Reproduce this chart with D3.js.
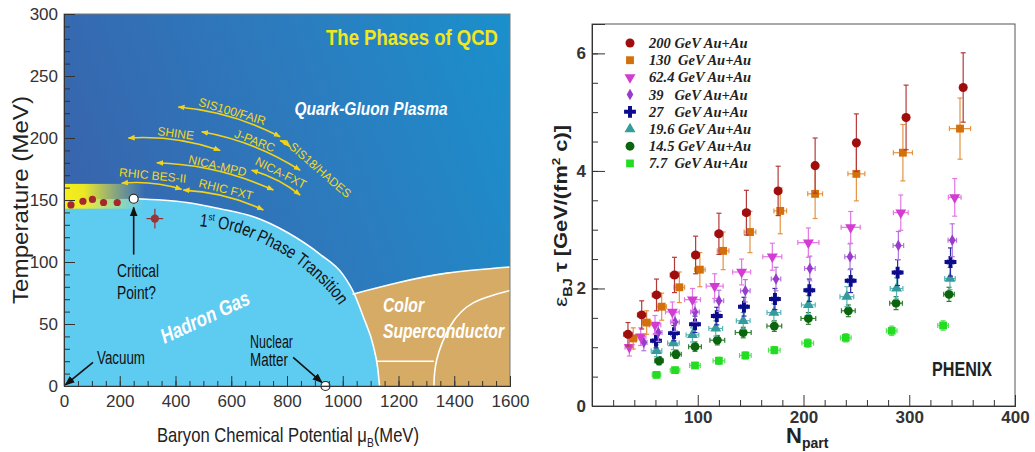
<!DOCTYPE html>
<html>
<head>
<meta charset="utf-8">
<script src="https://cdn.jsdelivr.net/npm/d3@7"></script>
<style>
  body { margin: 0; background: #fff; }
  svg { display: block; }
</style>
</head>
<body>
<div id="chart"></div>
<script>
// ---------------- QCD phase diagram (left panel) ----------------
// [muB (MeV), T (MeV)]
const phaseBoundary = [[0,150],[250,151],[440,148],[560,143],[680,136.5],[800,124],[920,106],[1000,90],[1040,75],[1075,55],[1110,32],[1125,15],[1132,0]];
const cscTop = [[1035,74],[1193,83],[1373,91],[1600,96]];
const cscInnerLine = [[1122,20],[1327,20]];
const cscInnerArc = [[1327,0],[1337,21],[1385,48],[1468,67],[1600,77]];
const freezeOut = [[25,146],[68,149],[102,150.5],[142,148],[191,148]];
const criticalPoint = [250,151];
const latticePoint = [326,135];
const latticeErr = [30,8];
const nuclearMatter = [938,0];
const transitionLabelPath = [[485,129],[600,125],[673,119],[740,112],[817,102],[900,87],[965,72],[1010,57]];

const expNames = ["SIS100/FAIR","J-PARC","SIS18/HADES","SHINE","NICA-MPD","NICA-FXT","RHIC BES-II","RHIC FXT"];
const expFrom = [[410,225],[494,205],[775,198],[231,200],[333,180],[673,174],[207,163.5],[428,158]];
const expTo   = [[775,201],[847,174],[811,193],[560,190],[751,158],[847,154],[422,158.6],[715,142]];

const tempTicks = [0,50,100,150,200,250,300];
const muTicks = [0,200,400,600,800,1000,1200,1400,1600];

// ---------------- PHENIX Bjorken energy density (right panel) ----------------
const legendLabels = ["200 GeV Au+Au","130  GeV Au+Au","62.4 GeV Au+Au","39   GeV Au+Au","27   GeV Au+Au","19.6 GeV Au+Au","14.5 GeV Au+Au","7.7  GeV Au+Au"];

const nPart200 = [34,47,61,78,98,120,146,176,211,250,297,351];
const eps200   = [1.22,1.55,1.89,2.23,2.57,2.93,3.29,3.66,4.09,4.48,4.91,5.42];
const err200   = [0.2,0.24,0.27,0.3,0.32,0.35,0.38,0.42,0.47,0.49,0.55,0.59];
const nErr200  = [4,4,4,4,3.5,3.5,3.5,3,3,2.5,2.5,2.5];

const nPart130 = [39,51.7,65.9,82.6,102,124,149.4,178,211,250,294,348];
const eps130   = [1.15,1.42,1.69,2.02,2.32,2.64,2.96,3.32,3.61,3.95,4.31,4.72];
const err130   = [0.18,0.2,0.23,0.26,0.29,0.32,0.35,0.39,0.42,0.46,0.48,0.52];
const nErr130  = [3.5,4,4.5,5,5,5.5,5.5,6,7,8,9,10];

const nPart62 = [35.3,46,59.6,76,95,116,141.5,170.5,204.6,244.6,292,343];
const eps62   = [1.0,1.18,1.38,1.6,1.81,2.04,2.28,2.54,2.78,3.04,3.29,3.55];
const err62   = [0.15,0.15,0.16,0.17,0.19,0.21,0.22,0.23,0.25,0.27,0.3,0.32];
const nErr62  = [4,5,5.5,6.5,7.5,8,8.5,9,10,9,7,6];

const nPart39 = [49,62.7,78.5,97.4,120,145,174,206,244,289.7,340.7];
const eps39   = [1.08,1.25,1.43,1.6,1.79,1.96,2.16,2.34,2.54,2.73,2.82];
const err39   = [0.14,0.15,0.16,0.17,0.18,0.19,0.2,0.21,0.22,0.24,0.28];
const nErr39  = [3,3.5,4,4,4.5,4.5,4.5,5,5,5,4];

const nPart27 = [60.5,77.5,97.4,118,143.7,173,205.5,244.6,289,339];
const eps27   = [1.11,1.24,1.39,1.53,1.69,1.82,1.97,2.13,2.27,2.45];
const err27   = [0.12,0.13,0.14,0.15,0.16,0.18,0.19,0.2,0.22,0.24];
const nErr27  = [3,3,3,3,3,3,3,3,3,3];

const nPart19 = [61,77,95,117,143,172,204.6,241,288,338.5];
const eps19   = [0.94,1.07,1.21,1.32,1.45,1.59,1.72,1.86,2.0,2.17];
const err19   = [0.1,0.11,0.12,0.13,0.14,0.15,0.16,0.17,0.18,0.19];
const nErr19  = [5,5.5,6,6.5,6.5,6.5,6.5,6.5,6,5];

const nPart14 = [63.4,79.4,97.4,118.5,143,172.4,204.6,242.4,287.5,337.6];
const eps14   = [0.77,0.88,1.01,1.12,1.25,1.36,1.49,1.62,1.75,1.9];
const err14   = [0.07,0.07,0.08,0.08,0.09,0.09,0.1,0.1,0.11,0.12];
const nErr14  = [4,5,6,7,7.5,7,7,6.5,6,5];

const nPart7 = [61,78.5,97.4,120,145,172.4,204,240,283.4,332];
const eps7   = [0.53,0.61,0.69,0.77,0.86,0.95,1.07,1.16,1.28,1.37];
const err7   = [0.05,0.05,0.05,0.06,0.06,0.06,0.07,0.07,0.08,0.08];
const nErr7  = [4,4.5,5,5.5,5.5,5.5,5.5,5,5,5];

const epsTicks = [0,2,4,6];
const npartTicks = [100,200,300,400];

// ================================================================
const NARROW = '"Liberation Sans Narrow", "Liberation Sans", Arial, sans-serif';
const SANS = '"Liberation Sans", Arial, sans-serif';

const svg = d3.select("#chart").append("svg")
    .attr("width", 1035).attr("height", 452)
    .attr("font-family", NARROW);
const defs = svg.append("defs");

function fit(sel, w) {
    return sel.attr("textLength", w).attr("lengthAdjust", "spacingAndGlyphs");
}

// ---------------- left panel ----------------
const xL = d3.scaleLinear().domain([0, 1600]).range([64, 510]);
const yL = d3.scaleLinear().domain([0, 300]).range([386, 14]);

const qg = defs.append("linearGradient").attr("id", "qgpGrad")
    .attr("x1", 0).attr("y1", 0.3).attr("x2", 1).attr("y2", 0);
qg.append("stop").attr("offset", "0%").attr("stop-color", "#3766ae");
qg.append("stop").attr("offset", "55%").attr("stop-color", "#2b7dbf");
qg.append("stop").attr("offset", "100%").attr("stop-color", "#1a90cc");

const bg = defs.append("linearGradient").attr("id", "bandGrad");
bg.append("stop").attr("offset", "0%").attr("stop-color", "#f7ef16").attr("stop-opacity", 1);
bg.append("stop").attr("offset", "25%").attr("stop-color", "#f4ee1e").attr("stop-opacity", 0.95);
bg.append("stop").attr("offset", "100%").attr("stop-color", "#d8e870").attr("stop-opacity", 0);

defs.append("clipPath").attr("id", "clipL").append("rect")
    .attr("x", xL(0)).attr("y", yL(300))
    .attr("width", xL(1600) - xL(0)).attr("height", yL(0) - yL(300));

const mkArrow = (id, color, size) => {
    defs.append("marker").attr("id", id)
        .attr("viewBox", "0 0 10 10").attr("refX", 9).attr("refY", 5)
        .attr("markerWidth", size).attr("markerHeight", size)
        .attr("markerUnits", "userSpaceOnUse")
        .attr("orient", "auto-start-reverse")
        .append("path").attr("d", "M0,1 L10,5 L0,9 z").attr("fill", color);
};
mkArrow("arrY", "#f3d21a", 7);
mkArrow("arrB", "#111", 10);

const left = svg.append("g").attr("clip-path", "url(#clipL)");

left.append("rect")
    .attr("x", xL(0)).attr("y", yL(300))
    .attr("width", xL(1600) - xL(0)).attr("height", yL(0) - yL(300))
    .attr("fill", "url(#qgpGrad)");

// colour superconductor
left.append("path").datum(cscTop)
    .attr("d", d3.area().x(d => xL(d[0])).y0(yL(0)).y1(d => yL(d[1])).curve(d3.curveNatural))
    .attr("fill", "#d6ab65");

// hadron gas
left.append("path").datum(phaseBoundary)
    .attr("d", d3.area().x(d => xL(d[0])).y0(yL(0)).y1(d => yL(d[1])).curve(d3.curveMonotoneX))
    .attr("fill", "#5ecbf1");

const whiteLine = (pts, curve) => left.append("path").datum(pts)
    .attr("d", d3.line().x(d => xL(d[0])).y(d => yL(d[1])).curve(curve))
    .attr("fill", "none").attr("stroke", "#fff").attr("stroke-width", 1.6);

whiteLine(phaseBoundary.filter(d => d[0] >= 250), d3.curveMonotoneX);
whiteLine(cscTop, d3.curveNatural);
whiteLine(cscInnerLine, d3.curveLinear);
whiteLine(cscInnerArc, d3.curveNatural);

// crossover band
left.append("rect")
    .attr("x", xL(0)).attr("y", yL(163))
    .attr("width", xL(290) - xL(0)).attr("height", yL(143) - yL(163))
    .attr("fill", "url(#bandGrad)");

// freeze-out points
left.selectAll(".fo").data(freezeOut).enter().append("circle")
    .attr("cx", d => xL(d[0])).attr("cy", d => yL(d[1])).attr("r", 3.6)
    .attr("fill", "#a3292d");

// lattice / model point with errors
const lp = left.append("g").attr("stroke", "#9c3030").attr("stroke-width", 1.2);
lp.append("line")
    .attr("x1", xL(latticePoint[0] - latticeErr[0])).attr("x2", xL(latticePoint[0] + latticeErr[0]))
    .attr("y1", yL(latticePoint[1])).attr("y2", yL(latticePoint[1]));
lp.append("line")
    .attr("x1", xL(latticePoint[0])).attr("x2", xL(latticePoint[0]))
    .attr("y1", yL(latticePoint[1] - latticeErr[1])).attr("y2", yL(latticePoint[1] + latticeErr[1]));
left.append("circle").attr("cx", xL(latticePoint[0])).attr("cy", yL(latticePoint[1]))
    .attr("r", 4.2).attr("fill", "#9c3535");

// experiment arrows
expNames.forEach((name, i) => {
    const x0 = xL(expFrom[i][0]), y0 = yL(expFrom[i][1]);
    const x1 = xL(expTo[i][0]), y1 = yL(expTo[i][1]);
    const dx = x1 - x0, dy = y1 - y0, L = Math.hypot(dx, dy);
    const nx = dy / L, ny = -dx / L;
    const cx = (x0 + x1) / 2 + nx * 0.1 * L, cy = (y0 + y1) / 2 + ny * 0.1 * L;
    left.append("path")
        .attr("d", `M${x0},${y0} Q${cx},${cy} ${x1},${y1}`)
        .attr("fill", "none").attr("stroke", "#f3d21a").attr("stroke-width", 1.6)
        .attr("marker-start", "url(#arrY)").attr("marker-end", "url(#arrY)");
    const ang = Math.atan2(dy, dx) * 180 / Math.PI;
    let t;
    if (name === "SIS18/HADES") {
        t = left.append("text")
            .attr("transform", `translate(${x1 + 1},${y1 - 2}) rotate(41)`)
            .attr("dy", "0.35em").text(name);
    } else {
        const lx = (x0 + x1) / 2 + nx * 11, ly = (y0 + y1) / 2 + ny * 11;
        t = left.append("text")
            .attr("transform", `translate(${lx},${ly}) rotate(${ang})`)
            .attr("text-anchor", "middle").attr("dy", "0.35em").text(name);
    }
    t.attr("fill", "#f3d81e").attr("font-size", 12);
});

// label along transition line
defs.append("path").attr("id", "trPath").datum(transitionLabelPath)
    .attr("d", d3.line().x(d => xL(d[0])).y(d => yL(d[1])).curve(d3.curveNatural));
const tr = left.append("text").attr("font-size", 18).attr("fill", "#111")
    .append("textPath").attr("href", "#trPath")
    .attr("textLength", 166).attr("lengthAdjust", "spacingAndGlyphs");
tr.append("tspan").text("1");
tr.append("tspan").attr("font-size", 10).attr("dy", -7).text("st");
tr.append("tspan").attr("dy", 7).text(" Order Phase Transition");

// region titles
fit(left.append("text").attr("x", 498).attr("y", 45).attr("text-anchor", "end")
    .attr("font-size", 22).attr("font-weight", "bold").attr("fill", "#f1e71e")
    .text("The Phases of QCD"), 172);
fit(left.append("text").attr("x", 371).attr("y", 115).attr("text-anchor", "middle")
    .attr("font-size", 19).attr("font-weight", "bold").attr("font-style", "italic").attr("fill", "#fff")
    .text("Quark-Gluon Plasma"), 153);
fit(left.append("text").attr("transform", "translate(205,317) rotate(-25)").attr("text-anchor", "middle")
    .attr("dy", "0.35em").attr("font-size", 21).attr("font-weight", "bold").attr("font-style", "italic")
    .attr("fill", "#fff").text("Hadron Gas"), 96);
fit(left.append("text").attr("x", 383).attr("y", 312)
    .attr("font-size", 20).attr("font-weight", "bold").attr("font-style", "italic").attr("fill", "#fff")
    .text("Color"), 41);
fit(left.append("text").attr("x", 383).attr("y", 338)
    .attr("font-size", 20).attr("font-weight", "bold").attr("font-style", "italic").attr("fill", "#fff")
    .text("Superconductor"), 121);

// annotations
const note = (x, y, s, w) => fit(left.append("text").attr("x", x).attr("y", y)
    .attr("font-size", 18).attr("fill", "#111").text(s), w);
note(117, 277, "Critical", 42);
note(117, 299, "Point?", 39);
note(97, 364, "Vacuum", 48);
note(250, 348, "Nuclear", 43);
note(250, 366, "Matter", 38);

const blackArrow = (a, b) => svg.append("line")
    .attr("x1", xL(a[0])).attr("y1", yL(a[1])).attr("x2", xL(b[0])).attr("y2", yL(b[1]))
    .attr("stroke", "#111").attr("stroke-width", 1.6).attr("marker-end", "url(#arrB)");
blackArrow([criticalPoint[0], 106], [criticalPoint[0], 144]);
blackArrow([104, 19], [5, 1]);
blackArrow([822, 23], [925, 3]);

svg.append("circle").attr("cx", xL(criticalPoint[0])).attr("cy", yL(criticalPoint[1])).attr("r", 4.5)
    .attr("fill", "#fff").attr("stroke", "#222").attr("stroke-width", 1.2);
svg.append("circle").attr("cx", xL(nuclearMatter[0])).attr("cy", yL(nuclearMatter[1])).attr("r", 4.5)
    .attr("fill", "#fff").attr("stroke", "#222").attr("stroke-width", 1.2);

// axes
svg.append("rect").attr("x", xL(0)).attr("y", yL(300))
    .attr("width", xL(1600) - xL(0)).attr("height", yL(0) - yL(300))
    .attr("fill", "none").attr("stroke", "#777");

const styleAxis = (g, size, fam, weight) => {
    g.attr("font-family", null);
    g.select(".domain").attr("stroke", "#333");
    g.selectAll(".tick line").attr("stroke", "#333");
    g.selectAll(".tick text").attr("font-size", size).attr("fill", "#333")
        .attr("font-family", fam).attr("font-weight", weight);
};
const minorOnly = g => {
    g.selectAll(".tick text").remove();
    g.select(".domain").attr("stroke", "#333");
    g.selectAll(".tick line").attr("stroke", "#333");
};

svg.append("g").attr("transform", `translate(${xL(0)},0)`)
    .call(d3.axisLeft(yL).tickValues(yL.ticks(30)).tickSize(-6))
    .call(minorOnly);
svg.append("g").attr("transform", `translate(${xL(0)},0)`)
    .call(d3.axisLeft(yL).tickValues(tempTicks).tickSize(-11).tickPadding(6).tickFormat(d3.format("d")))
    .call(g => styleAxis(g, 17, NARROW, "normal"));
svg.append("g").attr("transform", `translate(0,${yL(0)})`)
    .call(d3.axisBottom(xL).tickValues(xL.ticks(32)).tickSize(-5))
    .call(minorOnly);
svg.append("g").attr("transform", `translate(0,${yL(0)})`)
    .call(d3.axisBottom(xL).tickValues(muTicks).tickSize(-10).tickPadding(9).tickFormat(d3.format("d")))
    .call(g => styleAxis(g, 17, NARROW, "normal"));

const xlab = svg.append("text").attr("x", 288).attr("y", 442).attr("text-anchor", "middle")
    .attr("font-size", 21).attr("fill", "#222");
xlab.append("tspan").text("Baryon Chemical Potential μ");
xlab.append("tspan").attr("font-size", 13).attr("dy", 5).text("B");
xlab.append("tspan").attr("dy", -5).text("(MeV)");
fit(xlab, 262);

fit(svg.append("text").attr("transform", "translate(28,200) rotate(-90)").attr("text-anchor", "middle")
    .attr("font-family", SANS)
    .attr("font-size", 22).attr("fill", "#222").text("Temperature (MeV)"), 208);

// ---------------- right panel ----------------
const xR = d3.scaleLinear().domain([0, 400]).range([592, 1015]);
const yR = d3.scaleLinear().domain([0, 6.5]).range([406, 24]);

const series = [
    { n: nPart7,   e: eps7,   err: err7,   nerr: nErr7,   color: "#22dd22", ecol: "#55e055", sym: d3.symbolSquare,   size: 60, rot: 0 },
    { n: nPart14,  e: eps14,  err: err14,  nerr: nErr14,  color: "#0b650d", ecol: "#2f7d2f", sym: d3.symbolCircle,   size: 62, rot: 0 },
    { n: nPart19,  e: eps19,  err: err19,  nerr: nErr19,  color: "#359c9e", ecol: "#5ab4b4", sym: d3.symbolTriangle, size: 52, rot: 0 },
    { n: nPart27,  e: eps27,  err: err27,  nerr: nErr27,  color: "#0b0b8c", ecol: "#2a2aa5", sym: d3.symbolCross,    size: 78, rot: 0 },
    { n: nPart39,  e: eps39,  err: err39,  nerr: nErr39,  color: "#983ccc", ecol: "#b574e0", sym: d3.symbolDiamond,  size: 38, rot: 0 },
    { n: nPart62,  e: eps62,  err: err62,  nerr: nErr62,  color: "#d23cd2", ecol: "#e477e4", sym: d3.symbolTriangle, size: 52, rot: 180 },
    { n: nPart130, e: eps130, err: err130, nerr: nErr130, color: "#d4700c", ecol: "#e39444", sym: d3.symbolSquare,   size: 62, rot: 0 },
    { n: nPart200, e: eps200, err: err200, nerr: nErr200, color: "#a00d0d", ecol: "#b43a3a", sym: d3.symbolCircle,   size: 64, rot: 0 }
];

series.forEach(s => {
    const pts = s.n.map((n, i) => ({ n, e: s.e[i], de: s.err[i], dn: s.nerr[i] }));
    const g = svg.append("g");
    const eb = g.append("g").attr("stroke", s.ecol).attr("stroke-width", 1.2);
    pts.forEach(p => {
        const x = xR(p.n), y = yR(p.e);
        const yt = yR(p.e + p.de), yb = yR(p.e - p.de);
        const xl = xR(p.n - p.dn), xr = xR(p.n + p.dn);
        eb.append("line").attr("x1", x).attr("x2", x).attr("y1", yt).attr("y2", yb);
        eb.append("line").attr("x1", x - 2.5).attr("x2", x + 2.5).attr("y1", yt).attr("y2", yt);
        eb.append("line").attr("x1", x - 2.5).attr("x2", x + 2.5).attr("y1", yb).attr("y2", yb);
        eb.append("line").attr("x1", xl).attr("x2", xr).attr("y1", y).attr("y2", y);
        eb.append("line").attr("x1", xl).attr("x2", xl).attr("y1", y - 2.5).attr("y2", y + 2.5);
        eb.append("line").attr("x1", xr).attr("x2", xr).attr("y1", y - 2.5).attr("y2", y + 2.5);
    });
    g.selectAll(".m").data(pts).enter().append("path")
        .attr("d", d3.symbol().type(s.sym).size(s.size))
        .attr("transform", p => `translate(${xR(p.n)},${yR(p.e)}) rotate(${s.rot})`)
        .attr("fill", s.color);
});

// frame and axes
svg.append("rect").attr("x", xR(0)).attr("y", yR(6.5))
    .attr("width", xR(400) - xR(0)).attr("height", yR(0) - yR(6.5))
    .attr("fill", "none").attr("stroke", "#555");

svg.append("g").attr("transform", `translate(${xR(0)},0)`)
    .call(d3.axisLeft(yR).tickValues(yR.ticks(13)).tickSize(-6))
    .call(minorOnly);
svg.append("g").attr("transform", `translate(${xR(0)},0)`)
    .call(d3.axisLeft(yR).tickValues(epsTicks).tickSize(-13).tickPadding(6).tickFormat(d3.format("d")))
    .call(g => styleAxis(g, 17, NARROW, "bold"));
svg.append("g").attr("transform", `translate(0,${yR(0)})`)
    .call(d3.axisBottom(xR).tickValues(xR.ticks(20).filter(v => v % 100 !== 0)).tickSize(-6))
    .call(minorOnly);
svg.append("g").attr("transform", `translate(0,${yR(0)})`)
    .call(d3.axisBottom(xR).tickValues(npartTicks).tickSize(-11).tickPadding(5).tickFormat(d3.format("d")))
    .call(g => styleAxis(g, 17, NARROW, "bold"));

const ylab = svg.append("text").attr("transform", "translate(567,216) rotate(-90)")
    .attr("text-anchor", "middle").attr("font-size", 18).attr("font-weight", "bold").attr("fill", "#222")
    .attr("font-family", SANS);
ylab.append("tspan").attr("font-weight", "normal").attr("font-size", 19).text("ε");
ylab.append("tspan").attr("font-size", 12).attr("dy", 5).text("BJ");
ylab.append("tspan").attr("dy", -5).text("\u00a0τ\u00a0[GeV/(fm");
ylab.append("tspan").attr("font-size", 11).attr("dy", -7).text("2");
ylab.append("tspan").attr("dy", 7).text("\u00a0c)]");
fit(ylab, 182);

const nlab = svg.append("text").attr("x", 786).attr("y", 443).attr("font-weight", "bold").attr("fill", "#222")
    .attr("font-family", NARROW);
nlab.append("tspan").attr("font-size", 22).text("N");
nlab.append("tspan").attr("font-size", 14).attr("dy", 5).text("part");

fit(svg.append("text").attr("x", 932).attr("y", 376).attr("font-size", 21).attr("font-weight", "bold")
    .attr("fill", "#222").text("PHENIX"), 60);

// legend
const legendOrder = series.slice().reverse();
const leg = svg.append("g");
legendLabels.forEach((lab, i) => {
    const s = legendOrder[i];
    const y = 43 + i * 17.2;
    leg.append("path").attr("d", d3.symbol().type(s.sym).size(s.size))
        .attr("transform", `translate(630,${y}) rotate(${s.rot})`).attr("fill", s.color);
    leg.append("text").attr("x", 649).attr("y", y + 5)
        .attr("font-family", '"Liberation Serif", "Times New Roman", serif')
        .attr("font-size", 14.5).attr("font-weight", "bold").attr("font-style", "italic")
        .attr("fill", "#222").attr("xml:space", "preserve").style("white-space", "pre")
        .text(lab);
});
</script>
</body>
</html>
